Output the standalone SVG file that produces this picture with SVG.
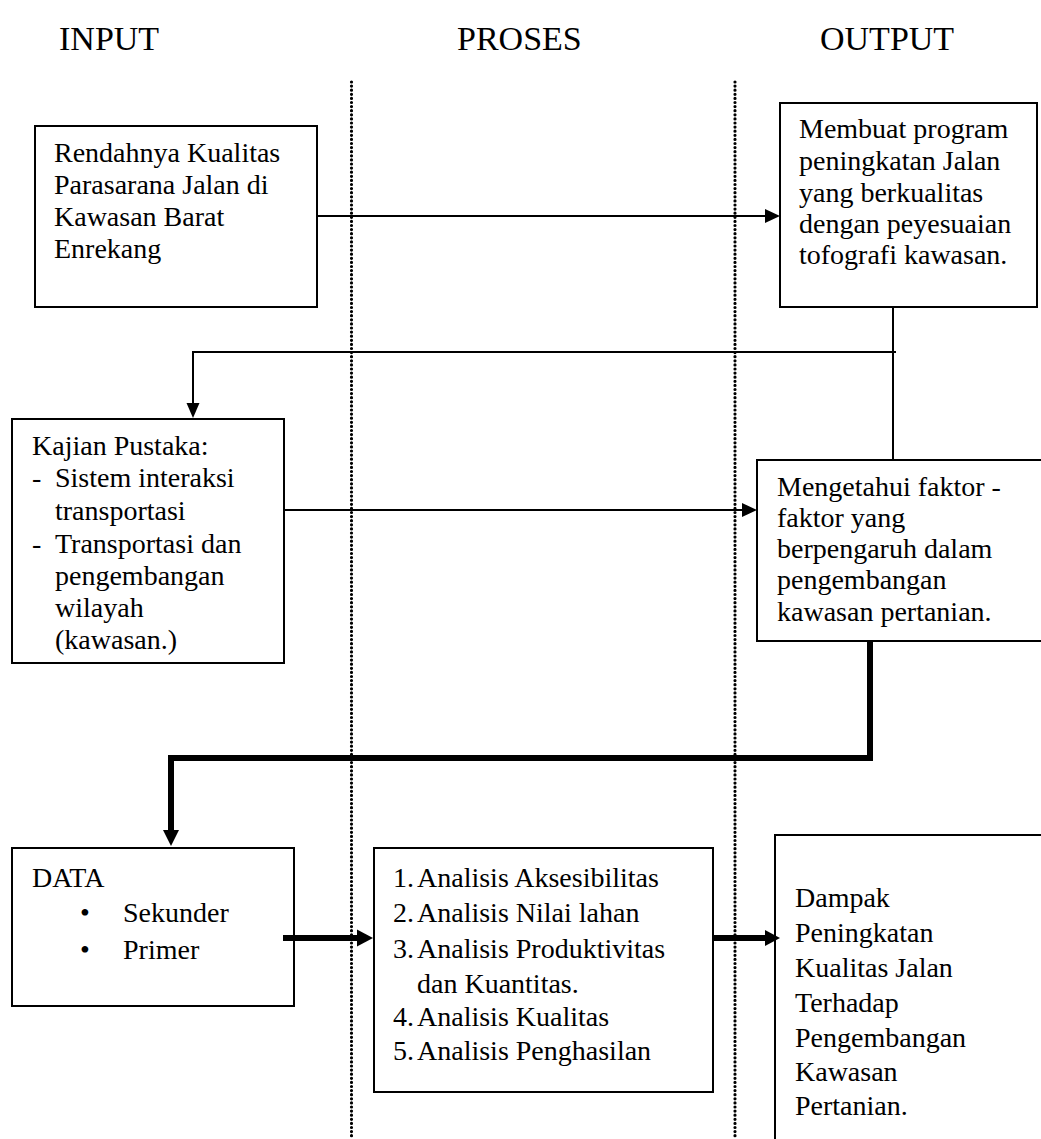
<svg xmlns="http://www.w3.org/2000/svg" width="1041" height="1139" viewBox="0 0 1041 1139">
  <style>
    text { font-family: 'Liberation Serif', 'DejaVu Serif', 'Times New Roman', serif; fill: #000; }
    .t { font-size: 28px; }
    .h { font-size: 34px; }
    .box { fill: #fff; stroke: #000; stroke-width: 2; }
    .ln { fill: none; stroke: #000; stroke-width: 2; }
    .thick { fill: none; stroke: #000; stroke-width: 6; }
    .dot { fill: none; stroke: #000; stroke-width: 3.2; stroke-linecap: round; stroke-dasharray: 0 4.1; }
    .head { fill: #000; }
  </style>

  <rect width="1041" height="1139" fill="#fff"/>

  <!-- column headings -->
  <g id="headings">
    <text class="h" x="59" y="50">INPUT</text>
    <text class="h" x="457" y="50">PROSES</text>
    <text class="h" x="820" y="50">OUTPUT</text>
  </g>

  <!-- column separators -->
  <g id="separators">
    <line class="dot" x1="351.5" y1="82" x2="351.5" y2="1139"/>
    <line class="dot" x1="735" y1="82" x2="735" y2="1139"/>
  </g>

  <g id="node-problem">
    <rect class="box" x="35" y="126" width="282" height="181"/>
    <text class="t" x="54" y="162">Rendahnya Kualitas</text>
    <text class="t" x="54" y="194">Parasarana Jalan di</text>
    <text class="t" x="54" y="226">Kawasan Barat</text>
    <text class="t" x="54" y="258">Enrekang</text>
  </g>

  <g id="node-program">
    <rect class="box" x="780" y="103" width="257" height="204"/>
    <text class="t" x="799" y="138">Membuat program</text>
    <text class="t" x="799" y="170">peningkatan Jalan</text>
    <text class="t" x="799" y="202">yang berkualitas</text>
    <text class="t" x="799" y="233">dengan peyesuaian</text>
    <text class="t" x="799" y="264">tofografi kawasan.</text>
  </g>

  <g id="node-literature">
    <rect class="box" x="12" y="419" width="272" height="244"/>
    <text class="t" x="32" y="455">Kajian Pustaka:</text>
    <text class="t" x="32" y="487">-</text>
    <text class="t" x="55" y="487">Sistem interaksi</text>
    <text class="t" x="55" y="520">transportasi</text>
    <text class="t" x="32" y="553">-</text>
    <text class="t" x="55" y="553">Transportasi dan</text>
    <text class="t" x="55" y="585">pengembangan</text>
    <text class="t" x="55" y="617">wilayah</text>
    <text class="t" x="55" y="649">(kawasan.)</text>
  </g>

  <g id="node-factors">
    <rect class="box" x="757" y="460" width="300" height="181"/>
    <text class="t" x="777" y="496">Mengetahui faktor -</text>
    <text class="t" x="777" y="527">faktor yang</text>
    <text class="t" x="777" y="558">berpengaruh dalam</text>
    <text class="t" x="777" y="589">pengembangan</text>
    <text class="t" x="777" y="621">kawasan pertanian.</text>
  </g>

  <g id="node-data">
    <rect class="box" x="12" y="848" width="282" height="158"/>
    <text class="t" x="32" y="887">DATA</text>
    <text class="t" x="80" y="922">•</text>
    <text class="t" x="123" y="922">Sekunder</text>
    <text class="t" x="80" y="959">•</text>
    <text class="t" x="123" y="959">Primer</text>
  </g>

  <g id="node-analysis">
    <rect class="box" x="374" y="848" width="339" height="244"/>
    <text class="t" x="393" y="887">1.</text>
    <text class="t" x="417" y="887">Analisis Aksesibilitas</text>
    <text class="t" x="393" y="922">2.</text>
    <text class="t" x="417" y="922">Analisis Nilai lahan</text>
    <text class="t" x="393" y="958">3.</text>
    <text class="t" x="417" y="958">Analisis Produktivitas</text>
    <text class="t" x="417" y="993">dan Kuantitas.</text>
    <text class="t" x="393" y="1026">4.</text>
    <text class="t" x="417" y="1026">Analisis Kualitas</text>
    <text class="t" x="393" y="1060">5.</text>
    <text class="t" x="417" y="1060">Analisis Penghasilan</text>
  </g>

  <g id="node-impact">
    <rect class="box" x="775" y="835" width="300" height="340"/>
    <text class="t" x="795" y="907">Dampak</text>
    <text class="t" x="795" y="942">Peningkatan</text>
    <text class="t" x="795" y="977">Kualitas Jalan</text>
    <text class="t" x="795" y="1012">Terhadap</text>
    <text class="t" x="795" y="1047">Pengembangan</text>
    <text class="t" x="795" y="1081">Kawasan</text>
    <text class="t" x="795" y="1115">Pertanian.</text>
  </g>

  <!-- connectors -->
  <g id="connectors">
    <!-- problem to program -->
    <line class="ln" x1="317" y1="216" x2="766" y2="216"/>
    <polygon class="head" points="780,216 765,209 765,223"/>

    <!-- program down and back to literature review -->
    <line class="ln" x1="893" y1="308" x2="893" y2="459"/>
    <polyline class="ln" points="896,352 193,352 193,404"/>
    <polygon class="head" points="193,418 186.5,403 199.5,403"/>

    <!-- literature review to factors -->
    <line class="ln" x1="285" y1="510" x2="743" y2="510"/>
    <polygon class="head" points="757,510 742,503 742,517"/>

    <!-- factors to data -->
    <polyline class="thick" points="870,642 870,758 171,758 171,832"/>
    <polygon class="head" points="171,846 163,830 179,830"/>

    <!-- data to analysis -->
    <line class="thick" x1="283" y1="938" x2="358" y2="938"/>
    <polygon class="head" points="373,938 357,929.5 357,946.5"/>

    <!-- analysis to impact -->
    <line class="thick" x1="714" y1="938" x2="766" y2="938"/>
    <polygon class="head" points="780,938 765,930 765,946"/>
  </g>
</svg>
